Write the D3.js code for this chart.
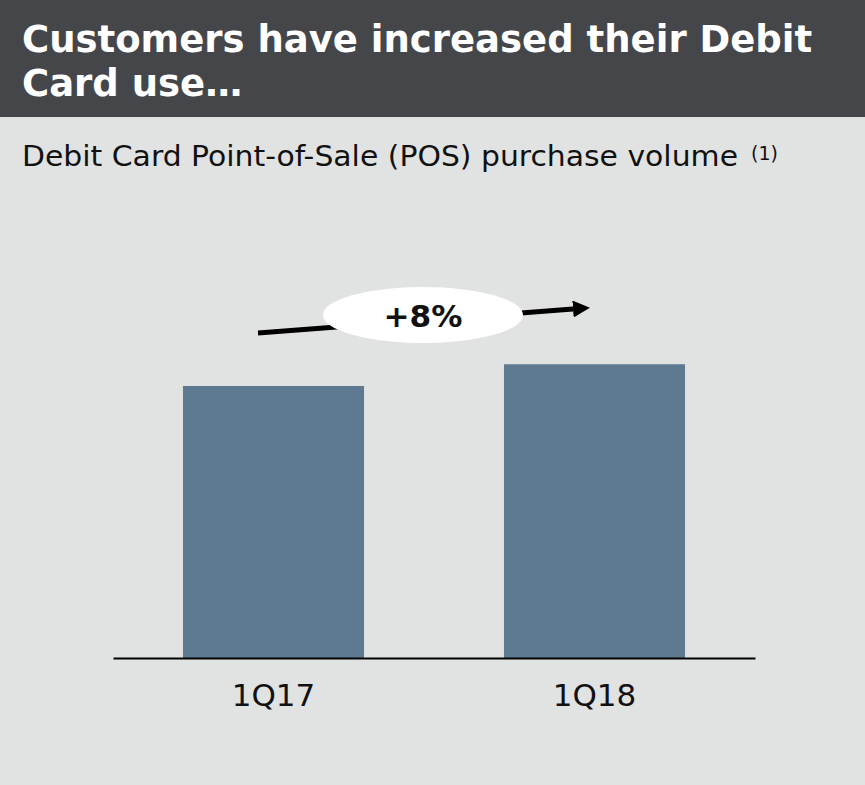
<!DOCTYPE html>
<html>
<head>
<meta charset="utf-8">
<script src="https://cdn.jsdelivr.net/npm/d3@7"></script>
<style>
  html, body { margin: 0; padding: 0; background: #e1e3e2; }
  svg { display: block; }
</style>
</head>
<body>
<svg id="chart" width="865" height="785"></svg>
<script>
// Debit card POS purchase volume, indexed to 1Q17
const periods = ["1Q17", "1Q18"];
const volumeIndex = [1.00, 1.08];
const growthLabel = "+8%";
const titleLines = ["Customers have increased their Debit", "Card use…"];
const subtitle = "Debit Card Point-of-Sale (POS) purchase volume";
const footnoteMark = "(1)";

const W = 865, H = 785;
const font = "'DejaVu Sans', Verdana, sans-serif";
const svg = d3.select("#chart");

svg.append("rect").attr("width", W).attr("height", H).attr("fill", "#e1e3e2");

// header band
svg.append("rect").attr("width", W).attr("height", 117).attr("fill", "#45464a");
svg.append("g").selectAll("text").data(titleLines).join("text")
  .attr("x", 22)
  .attr("y", (d, i) => 52 + i * 44)
  .attr("fill", "#ffffff")
  .attr("font-family", font)
  .attr("font-weight", "bold")
  .attr("font-size", 37)
  .text(d => d);

// subtitle with footnote marker
svg.append("text")
  .attr("x", 22).attr("y", 166)
  .attr("font-family", font).attr("font-size", 27.5).attr("fill", "#111")
  .attr("textLength", 716).attr("lengthAdjust", "spacingAndGlyphs")
  .text(subtitle);
svg.append("text")
  .attr("x", 751).attr("y", 160)
  .attr("font-family", font).attr("font-size", 19).attr("fill", "#111")
  .text(footnoteMark);

// scales
const x = d3.scaleBand().domain(periods).range([113, 755])
  .paddingInner(0.436).paddingOuter(0.218);
const y = d3.scaleLinear().domain([0, 1.5]).range([658, 250]);

// bars
svg.append("g").selectAll("rect").data(periods).join("rect")
  .attr("x", d => x(d))
  .attr("y", (d, i) => y(volumeIndex[i]))
  .attr("width", x.bandwidth())
  .attr("height", (d, i) => y(0) - y(volumeIndex[i]))
  .attr("fill", "#5e7a91");

// baseline axis
const axis = svg.append("g").attr("transform", `translate(0,${y(0)})`)
  .call(d3.axisBottom(x).tickSize(0).tickPadding(26));
axis.select(".domain").attr("stroke", "#000").attr("stroke-width", 2);
axis.selectAll("text")
  .attr("font-family", font).attr("font-size", 31).attr("fill", "#111");

// growth arrow
const defs = svg.append("defs");
defs.append("marker").attr("id", "head")
  .attr("viewBox", "0 0 10 10").attr("refX", 0).attr("refY", 5)
  .attr("markerWidth", 3.4).attr("markerHeight", 3.4)
  .attr("markerUnits", "strokeWidth").attr("orient", "auto")
  .append("path").attr("d", "M0,0 L10,5 L0,10 Z").attr("fill", "#000");

svg.append("line")
  .attr("x1", 258).attr("y1", 333).attr("x2", 573).attr("y2", 309)
  .attr("stroke", "#000").attr("stroke-width", 5)
  .attr("marker-end", "url(#head)");

svg.append("ellipse")
  .attr("cx", 423).attr("cy", 315).attr("rx", 100).attr("ry", 28)
  .attr("fill", "#ffffff");
svg.append("text")
  .attr("x", 423).attr("y", 327).attr("text-anchor", "middle")
  .attr("font-family", font).attr("font-weight", "bold").attr("font-size", 29.5)
  .attr("textLength", 79).attr("lengthAdjust", "spacingAndGlyphs")
  .attr("fill", "#111").text(growthLabel);
</script>
</body>
</html>
